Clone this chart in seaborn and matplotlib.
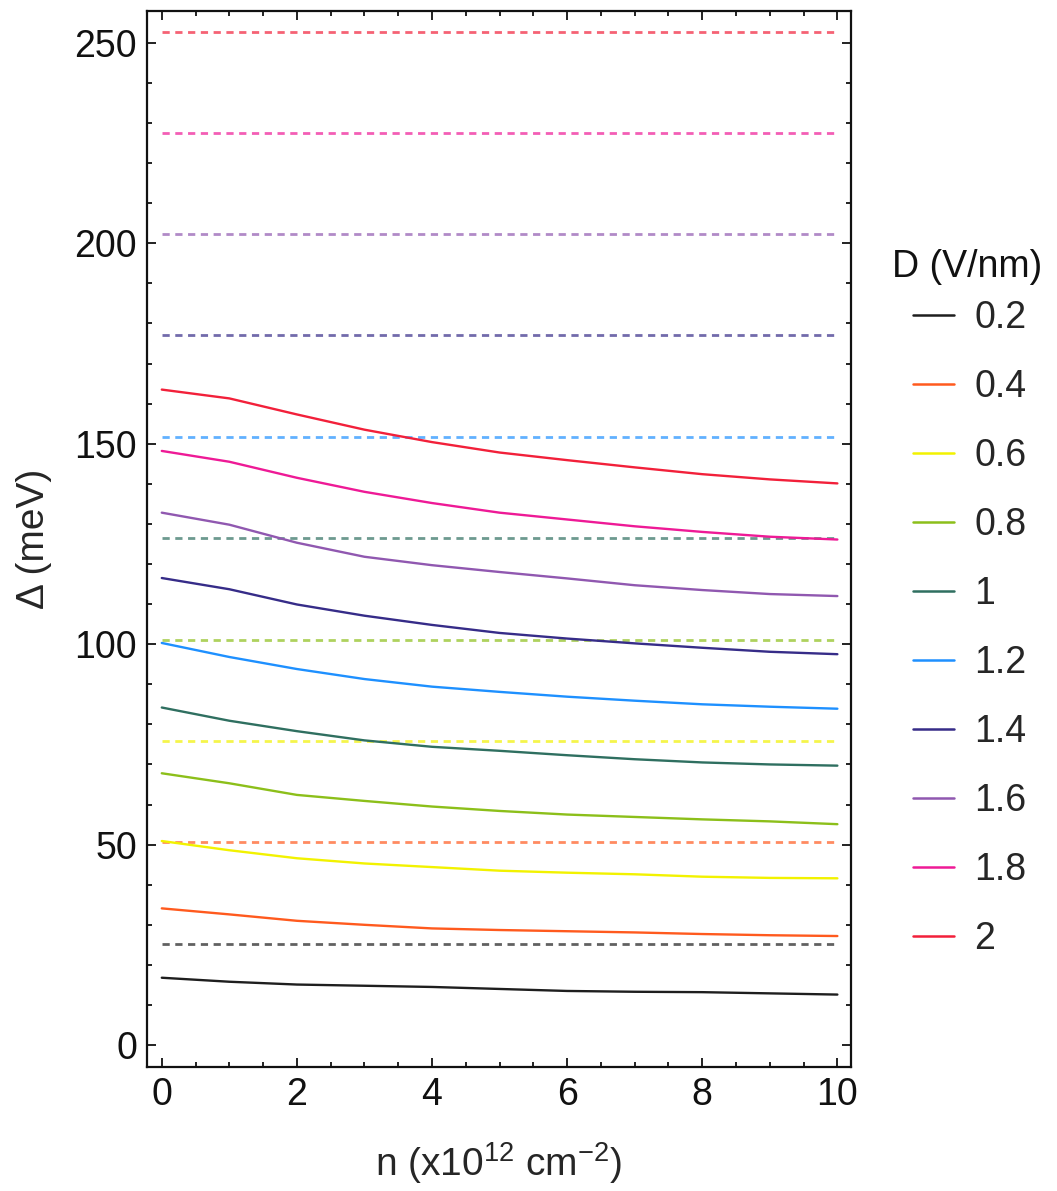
import numpy as np
import pandas as pd
import matplotlib
matplotlib.use("Agg")
import matplotlib.pyplot as plt
from matplotlib.lines import Line2D
from matplotlib.ticker import MultipleLocator
import seaborn as sns

# Carrier density n (x10^12 cm^-2)
n_vals = [0, 1, 2, 3, 4, 5, 6, 7, 8, 9, 10]

# Displacement field D (V/nm) and legend labels
d_vals = [0.2, 0.4, 0.6, 0.8, 1.0, 1.2, 1.4, 1.6, 1.8, 2.0]
d_labels = ["0.2", "0.4", "0.6", "0.8", "1", "1.2", "1.4", "1.6", "1.8", "2"]

# Gap Δ (meV) versus n for each D
gap_d02 = [16.8, 15.8, 15.1, 14.8, 14.5, 14.0, 13.5, 13.3, 13.2, 12.9, 12.6]
gap_d04 = [34.1, 32.6, 31.0, 30.0, 29.1, 28.7, 28.4, 28.1, 27.7, 27.4, 27.2]
gap_d06 = [50.9, 48.6, 46.6, 45.3, 44.4, 43.5, 43.0, 42.6, 42.0, 41.7, 41.6]
gap_d08 = [67.8, 65.3, 62.4, 60.9, 59.5, 58.4, 57.5, 56.9, 56.3, 55.8, 55.1]
gap_d10 = [84.2, 80.9, 78.3, 76.0, 74.4, 73.4, 72.3, 71.3, 70.5, 70.0, 69.7]
gap_d12 = [100.3, 96.8, 93.8, 91.3, 89.4, 88.1, 86.9, 85.9, 85.0, 84.4, 83.9]
gap_d14 = [116.5, 113.7, 109.9, 107.1, 104.8, 102.8, 101.4, 100.2, 99.1, 98.1, 97.5]
gap_d16 = [132.8, 129.8, 125.3, 121.8, 119.7, 118.0, 116.4, 114.7, 113.5, 112.5, 112.0]
gap_d18 = [148.2, 145.5, 141.5, 138.0, 135.2, 132.8, 131.1, 129.4, 128.0, 126.8, 126.1]
gap_d20 = [163.5, 161.3, 157.3, 153.5, 150.4, 147.8, 145.9, 144.1, 142.4, 141.1, 140.1]

# Zero-density reference gap for each D (dashed)
ref_gap = [25.3, 50.6, 75.8, 101.1, 126.4, 151.7, 177.0, 202.2, 227.5, 252.8]

colors = ["#1e1e1e", "#ff5a1e", "#f2f200", "#8cbf1a", "#2f6f60",
          "#1e90ff", "#362c88", "#9058b0", "#ee1a96", "#f2203a"]

gaps = [gap_d02, gap_d04, gap_d06, gap_d08, gap_d10,
        gap_d12, gap_d14, gap_d16, gap_d18, gap_d20]

curves = pd.concat(
    [pd.DataFrame({"n": n_vals, "gap": g, "D": lab}) for g, lab in zip(gaps, d_labels)],
    ignore_index=True,
)
refs = pd.concat(
    [pd.DataFrame({"n": [n_vals[0], n_vals[-1]], "gap": [r, r], "D": lab})
     for r, lab in zip(ref_gap, d_labels)],
    ignore_index=True,
)

sns.set_theme(style="ticks")
plt.rcParams["font.family"] = ["Liberation Sans", "DejaVu Sans"]
plt.rcParams["mathtext.fontset"] = "custom"
plt.rcParams["mathtext.rm"] = "Liberation Sans"
plt.rcParams["mathtext.it"] = "Liberation Sans:italic"

FS = 27
palette = dict(zip(d_labels, colors))

fig = plt.figure(figsize=(10.57, 11.91), dpi=100)
ax = fig.add_axes([0.139, 0.104, 0.666, 0.887])

# dashed reference levels
sns.lineplot(data=refs, x="n", y="gap", hue="D", hue_order=d_labels, palette=palette,
             ax=ax, legend=False, linewidth=2.0, alpha=0.7, estimator=None)
for ln in ax.get_lines():
    ln.set_dashes((2.6, 2.0))

# gap curves
sns.lineplot(data=curves, x="n", y="gap", hue="D", hue_order=d_labels, palette=palette,
             ax=ax, legend=False, linewidth=1.7, estimator=None)

ax.set_xlim(-0.22, 10.2)
ax.set_ylim(-5.5, 258)
ax.xaxis.set_major_locator(MultipleLocator(2))
ax.xaxis.set_minor_locator(MultipleLocator(0.5))
ax.yaxis.set_major_locator(MultipleLocator(50))
ax.yaxis.set_minor_locator(MultipleLocator(10))

ax.tick_params(which="both", direction="in", top=True, right=True,
               labelsize=FS, width=1.3, colors="#111111")
ax.tick_params(which="major", length=6.5, pad=7)
ax.tick_params(which="minor", length=3.5)
for sp in ax.spines.values():
    sp.set_linewidth(1.6)
    sp.set_color("#111111")

ax.set_xlabel(r"n (x10$^{12}$ cm$^{-2}$)", fontsize=FS + 1, labelpad=20)
ax.set_ylabel("Δ (meV)", fontsize=FS + 1, labelpad=16)

handles = [Line2D([0], [0], color=c, lw=1.8) for c in colors]
leg = ax.legend(handles, d_labels, loc="center left",
                bbox_to_anchor=(1.088, 0.4150), frameon=False, fontsize=FS,
                handlelength=1.09, handletextpad=0.55,
                labelspacing=0.88, borderpad=0, borderaxespad=0)
fig.text(892 / 1057, 1 - 277 / 1191, "D (V/nm)", fontsize=FS,
         ha="left", va="baseline", color="#111111")

fig.savefig("out.png", dpi=100)
